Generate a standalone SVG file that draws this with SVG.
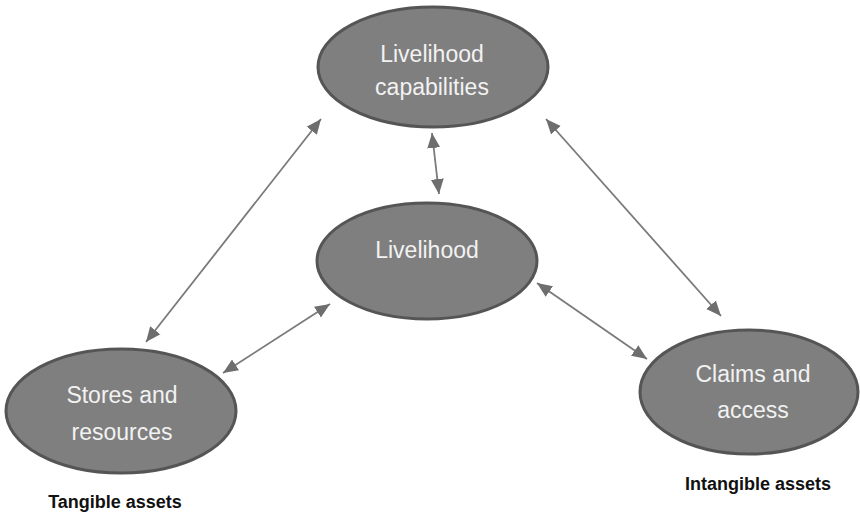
<svg xmlns="http://www.w3.org/2000/svg" width="860" height="513" viewBox="0 0 860 513">
<style>
.node ellipse{fill:#7f7f7f;stroke:#555555;stroke-width:3}
.node text{font-family:"Liberation Sans",Arial,sans-serif;font-size:23px;fill:#f2f2f2;text-anchor:middle}
.lbl{font-family:"Liberation Sans",Arial,sans-serif;font-size:18px;font-weight:bold;fill:#111111;text-anchor:middle}
#connectors line{stroke:#7a7a7a;stroke-width:1.8;marker-start:url(#ah);marker-end:url(#ah)}
</style>
<defs>
<marker id="ah" markerUnits="userSpaceOnUse" markerWidth="16" markerHeight="14" refX="15" refY="6.5" orient="auto-start-reverse" viewBox="0 0 16 13">
<path d="M0,0 L15,6.5 L0,13 z" fill="#6e6e6e"/>
</marker>
</defs>
<rect width="860" height="513" fill="#ffffff"/>
<g id="connectors">
<line x1="146" y1="342" x2="321" y2="119"/>
<line x1="432" y1="133" x2="439" y2="194"/>
<line x1="546" y1="119" x2="721" y2="316"/>
<line x1="223" y1="373" x2="330" y2="304"/>
<line x1="537" y1="283" x2="647" y2="359"/>
</g>
<g id="node-capabilities" class="node">
<ellipse cx="433" cy="67" rx="115" ry="60"/>
<text x="432" y="62">Livelihood</text>
<text x="432" y="95">capabilities</text>
</g>
<g id="node-livelihood" class="node">
<ellipse cx="427" cy="261" rx="110" ry="58"/>
<text x="427" y="258">Livelihood</text>
</g>
<g id="node-stores" class="node">
<ellipse cx="121" cy="411" rx="115" ry="62"/>
<text x="122" y="403">Stores and</text>
<text x="122" y="440">resources</text>
</g>
<g id="node-claims" class="node">
<ellipse cx="749" cy="392" rx="109" ry="62"/>
<text x="753" y="382">Claims and</text>
<text x="753" y="418">access</text>
</g>
<text class="lbl" x="115" y="508">Tangible assets</text>
<text class="lbl" x="758" y="490">Intangible assets</text>
</svg>
